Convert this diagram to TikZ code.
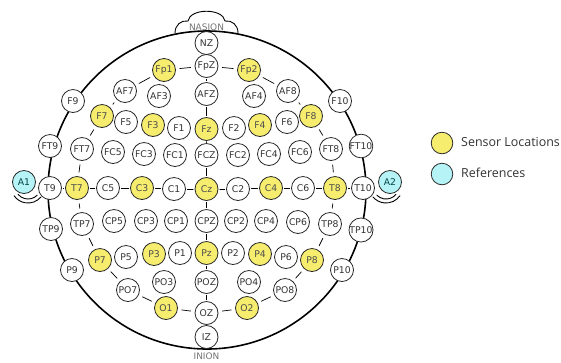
\documentclass[tikz,border=0pt]{standalone}
\usepackage{fontspec}
\newfontfamily\elfont{DejaVu Sans}
\newfontfamily\legfont{Open Sans}
\usepackage{xcolor}
\definecolor{sensoryellow}{HTML}{F6EC6E}
\definecolor{refcyan}{HTML}{B6F3F7}
\tikzset{
  every picture/.style={line join=round, line cap=round},
  electrode/.style={circle, draw=black!85, line width=0.8pt, fill=white, minimum size=23bp,
    inner sep=0pt, font=\elfont\fontsize{9.3}{10}\selectfont, text=black!80},
  sensor/.style={electrode, fill=sensoryellow, text=black!70},
  refnode/.style={electrode, fill=refcyan, text=teal!55!black},
  ringline/.style={line width=0.7pt, shorten <=4bp, shorten >=4bp},
  midlink/.style={line width=0.7pt, shorten <=1.5bp, shorten >=1.5bp},
  skull/.style={line width=1.6pt},
  landmark/.style={font=\elfont\fontsize{9}{10}\selectfont, text=black!55},
  legtext/.style={anchor=west, inner sep=0pt, font=\legfont\fontsize{12.5}{14}\selectfont, text=black!80},
}

\begin{document}
\begin{tikzpicture}[x=1bp,y=-1bp]
\useasboundingbox (0,0) rectangle (561,362);
% head outline
\coordinate (centre) at (207,190);
\draw[skull] (centre) circle[radius=159];
% nasion bump
\draw[line width=0.9pt] (175,33) .. controls (175,25) and (181,20) .. (188,21)
  .. controls (190,8) and (223,8) .. (225,21)
  .. controls (232,20) and (238,25) .. (238,33);
\node[landmark] (nasion) at (206.5,27) {NASION};
\node[landmark] (inion) at (206.5,356) {INION};
% ears
\draw[line width=0.9pt] ([shift={(28,186)}]40:17) arc[start angle=40, end angle=145, radius=17];
\draw[line width=0.9pt] ([shift={(28,186)}]45:13) arc[start angle=45, end angle=140, radius=13];
\draw[line width=0.9pt] ([shift={(386,186)}]35:17) arc[start angle=35, end angle=140, radius=17];
\draw[line width=0.9pt] ([shift={(386,186)}]40:13) arc[start angle=40, end angle=135, radius=13];

% electrodes, front to back
\node[electrode] (NZ) at (206.5,43) {NZ};
\node[sensor] (Fp1) at (164,70) {Fp1};
\node[electrode] (FpZ) at (206.5,66) {FpZ};
\node[sensor] (Fp2) at (249,70) {Fp2};
\node[electrode] (AF7) at (125,91) {AF7};
\node[electrode] (AF3) at (159,96) {AF3};
\node[electrode] (AFZ) at (206.5,94) {AFZ};
\node[electrode] (AF4) at (254,96) {AF4};
\node[electrode] (AF8) at (288,91) {AF8};
\node[electrode] (F9) at (73,101) {F9};
\node[electrode] (F10) at (340,101) {F10};
\node[sensor] (F7) at (102,116) {F7};
\node[electrode] (F5) at (126,122) {F5};
\node[sensor] (F3) at (153,125) {F3};
\node[electrode] (F1) at (179,128) {F1};
\node[sensor] (Fz) at (206.5,129) {Fz};
\node[electrode] (F2) at (234,128) {F2};
\node[sensor] (F4) at (260,125) {F4};
\node[electrode] (F6) at (287,122) {F6};
\node[sensor] (F8) at (311,116) {F8};
\node[electrode] (FT9) at (50,146) {FT9};
\node[electrode] (FT7) at (82,149) {FT7};
\node[electrode] (FC5) at (113,152) {FC5};
\node[electrode] (FC3) at (144,154) {FC3};
\node[electrode] (FC1) at (175,155) {FC1};
\node[electrode] (FCZ) at (206.5,155) {FCZ};
\node[electrode] (FC2) at (238,155) {FC2};
\node[electrode] (FC4) at (269,154) {FC4};
\node[electrode] (FC6) at (300,152) {FC6};
\node[electrode] (FT8) at (331,149) {FT8};
\node[electrode] (FT10) at (361,146) {FT10};
\node[refnode] (A1) at (24,182) {A1};
\node[electrode] (T9) at (50,188) {T9};
\node[sensor] (T7) at (77,188) {T7};
\node[electrode] (C5) at (108,188) {C5};
\node[sensor] (C3) at (142,188) {C3};
\node[electrode] (C1) at (174,189) {C1};
\node[sensor] (Cz) at (206.5,189) {Cz};
\node[electrode] (C2) at (238,189) {C2};
\node[sensor] (C4) at (271,188) {C4};
\node[electrode] (C6) at (303,188) {C6};
\node[sensor] (T8) at (335,188) {T8};
\node[electrode] (T10) at (363,188) {T10};
\node[refnode] (A2) at (390,182) {A2};
\node[electrode] (TP9) at (51,229) {TP9};
\node[electrode] (TP7) at (82,224) {TP7};
\node[electrode] (CP5) at (114,221) {CP5};
\node[electrode] (CP3) at (146,221) {CP3};
\node[electrode] (CP1) at (176,221) {CP1};
\node[electrode] (CPZ) at (206.5,221) {CPZ};
\node[electrode] (CP2) at (236,221) {CP2};
\node[electrode] (CP4) at (266,221) {CP4};
\node[electrode] (CP6) at (298,222) {CP6};
\node[electrode] (TP8) at (330,224) {TP8};
\node[electrode] (TP10) at (361,230) {TP10};
\node[electrode] (P9) at (72,270) {P9};
\node[sensor] (P7) at (100,260) {P7};
\node[electrode] (P5) at (126,257) {P5};
\node[sensor] (P3) at (154,254) {P3};
\node[electrode] (P1) at (180,253) {P1};
\node[sensor] (Pz) at (206.5,253) {Pz};
\node[electrode] (P2) at (233,253) {P2};
\node[sensor] (P4) at (260,254) {P4};
\node[electrode] (P6) at (286,257) {P6};
\node[sensor] (P8) at (312,260) {P8};
\node[electrode] (P10) at (342,270) {P10};
\node[electrode] (PO7) at (128,290) {PO7};
\node[electrode] (PO3) at (164,282) {PO3};
\node[electrode] (POZ) at (206.5,282) {POZ};
\node[electrode] (PO4) at (249,282) {PO4};
\node[electrode] (PO8) at (285,290) {PO8};
\node[sensor] (O1) at (166,308) {O1};
\node[electrode] (OZ) at (206.5,313) {OZ};
\node[sensor] (O2) at (247,308) {O2};
\node[electrode] (IZ) at (206.5,337) {IZ};

% 10-20 ring
\foreach \a/\b in {Fp1/FpZ, FpZ/Fp2, Fp2/AF8, AF8/F8, F8/FT8, FT8/T8, T8/TP8, TP8/P8,
  P8/PO8, PO8/O2, O2/OZ, OZ/O1, O1/PO7, PO7/P7, P7/TP7, TP7/T7, T7/FT7, FT7/F7, F7/AF7, AF7/Fp1}
  \draw[ringline] (\a) -- (\b);
% midline and central row
\foreach \a/\b in {FpZ/AFZ, AFZ/Fz, Fz/FCZ, FCZ/Cz, Cz/CPZ, CPZ/Pz, Pz/POZ, POZ/OZ,
  T9/T7, T7/C5, C5/C3, C3/C1, C1/Cz, Cz/C2, C2/C4, C4/C6, C6/T8, T8/T10}
  \draw[midlink] (\a) -- (\b);

% legend
\node[sensor, minimum size=21.6bp] (legSensor) at (442,143) {};
\node[refnode, minimum size=21.6bp] (legRef) at (442,174) {};
\node[legtext] (legSensorText) at (461,142) {Sensor Locations};
\node[legtext] (legRefText) at (461,173) {References};
\end{tikzpicture}
\end{document}
